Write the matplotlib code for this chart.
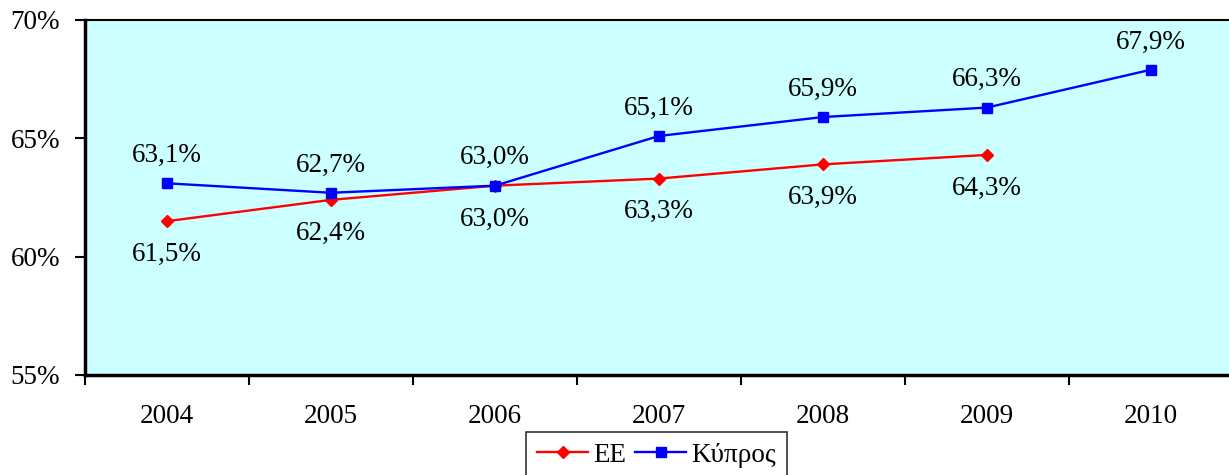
import matplotlib
matplotlib.use("Agg")
import matplotlib.pyplot as plt
from matplotlib.ticker import FixedLocator

years = ["2004", "2005", "2006", "2007", "2008", "2009", "2010"]
ee = [61.5, 62.4, 63.0, 63.3, 63.9, 64.3]
cyprus = [63.1, 62.7, 63.0, 65.1, 65.9, 66.3, 67.9]
yticks = [55, 60, 65, 70]

plt.rcParams['font.family'] = ['Liberation Serif', 'DejaVu Serif']
FS = 19.5

W, H = 1229, 475
fig = plt.figure(figsize=(W/100, H/100), dpi=100)
left, right, top, bottom = 85, 1233, 20, 375
ax = fig.add_axes([left/W, 1-bottom/H, (right-left)/W, (bottom-top)/H])
ax.set_facecolor('#CCFFFF')

x_ee = list(range(len(ee)))
x_cy = list(range(len(cyprus)))
l1, = ax.plot(x_ee, ee, color='red', marker='D', markersize=6, lw=1.7, label='EE')
l2, = ax.plot(x_cy, cyprus, color='blue', marker='s', markersize=7, lw=1.7, label='Κύπρος')

def fmt(v):
    return f"{v:.1f}%".replace('.', ',')

for x, v in zip(x_cy, cyprus):
    ax.annotate(fmt(v), (x, v), xytext=(0, 20), textcoords='offset points',
                ha='center', va='center', fontsize=FS)
for x, v in zip(x_ee, ee):
    ax.annotate(fmt(v), (x, v), xytext=(0, -24), textcoords='offset points',
                ha='center', va='center', fontsize=FS)

ax.set_xlim(-0.5, len(years) - 0.5)
ax.set_ylim(55, 70)
ax.set_yticks(yticks)
ax.set_yticklabels([f"{t}%" for t in yticks], fontsize=FS)
ax.xaxis.set_major_locator(FixedLocator([i - 0.5 for i in range(len(years) + 1)]))
ax.xaxis.set_minor_locator(FixedLocator(list(range(len(years)))))
ax.set_xticklabels([])
ax.set_xticklabels(years, minor=True, fontsize=FS)
ax.tick_params(axis='x', which='major', direction='out', length=7, width=1.5)
ax.tick_params(axis='x', which='minor', length=0, pad=21)
ax.tick_params(axis='y', direction='out', length=7, width=1.5, pad=11)

ax.spines['left'].set_linewidth(2.5)
ax.spines['bottom'].set_linewidth(2.5)
ax.spines['top'].set_linewidth(1.5)
ax.spines['right'].set_linewidth(1.5)

leg = fig.legend(handles=[l1, l2], loc='upper left',
                 bbox_to_anchor=(526/W, 1-432/H), ncol=2, fontsize=FS,
                 frameon=True, fancybox=False, edgecolor='black',
                 handlelength=1.9, columnspacing=0.3, handletextpad=0.2,
                 borderpad=0.4, borderaxespad=0)
leg.get_frame().set_linewidth(1.2)

fig.savefig("out.png", dpi=100)
